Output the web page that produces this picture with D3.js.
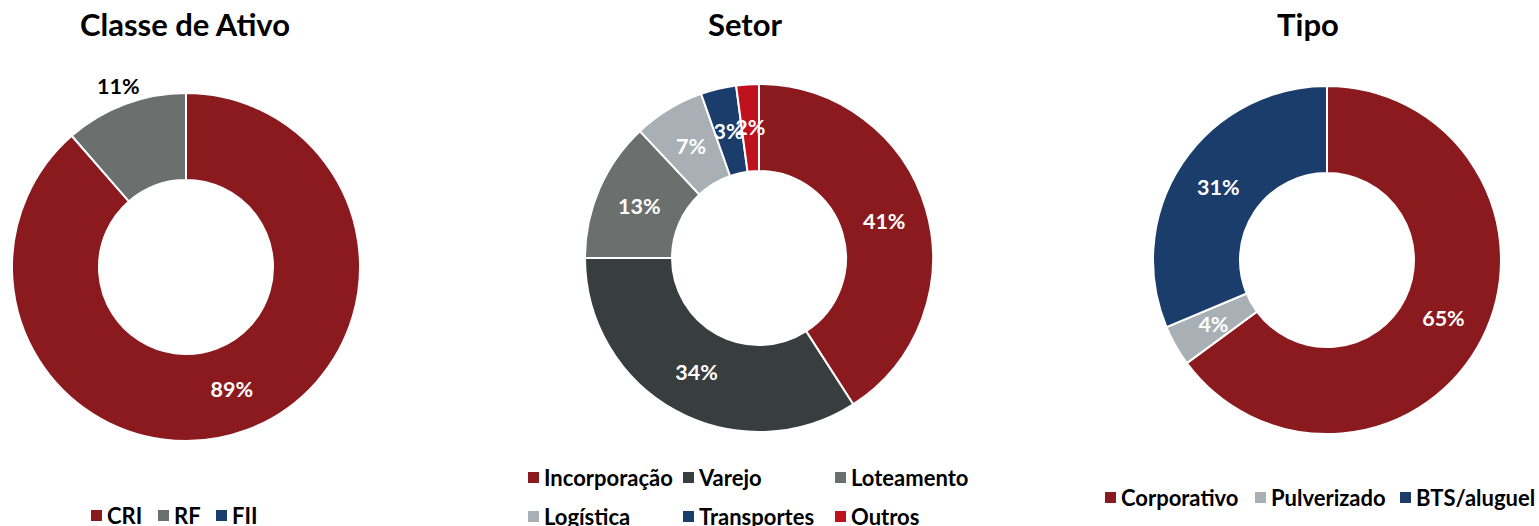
<!DOCTYPE html>
<html>
<head>
<meta charset="utf-8">
<script src="https://cdn.jsdelivr.net/npm/d3@7"></script>
<style>
body { margin: 0; background: #fff; font-family: Lato, "Open Sans", sans-serif; }
svg text { font-weight: bold; }
</style>
</head>
<body>
<script>
// data
var classeLabels = ["CRI", "RF", "FII"];
var classeValues = [88.6, 11.4, 0];
var classeColors = ["#8b1a1f", "#6b706f", "#1b3d6b"];

var setorLabels = ["Incorporação", "Varejo", "Loteamento", "Logística", "Transportes", "Outros"];
var setorValues = [40.9, 34.1, 13.0, 6.6, 3.3, 2.1];
var setorColors = ["#8b1a1f", "#383d3d", "#6b706f", "#a8afb5", "#1b3d6b", "#c0111f"];

var tipoLabels = ["Corporativo", "Pulverizado", "BTS/aluguel"];
var tipoValues = [64.9, 3.8, 31.3];
var tipoColors = ["#8b1a1f", "#a8afb5", "#1b3d6b"];

var width = 1539, height = 526;
var svg = d3.select("body").append("svg")
  .attr("width", width)
  .attr("height", height);

function donut(cfg) {
  var g = svg.append("g");
  var data = cfg.values.map(function(v, i) {
    return {label: cfg.labels[i], value: v, color: cfg.colors[i]};
  });
  var pie = d3.pie().sort(null).value(function(d) { return d.value; });
  var arc = d3.arc().innerRadius(cfg.r * 0.5).outerRadius(cfg.r);
  var arcs = pie(data);

  g.append("text")
    .attr("x", cfg.titleX).attr("y", 36)
    .attr("text-anchor", "middle")
    .style("font-size", "31px")
    .text(cfg.title);

  var pg = g.append("g").attr("transform", "translate(" + cfg.cx + "," + cfg.cy + ")");
  pg.selectAll("path")
    .data(arcs.filter(function(d) { return d.value > 0; }))
    .enter().append("path")
    .attr("d", arc)
    .attr("fill", function(d) { return d.data.color; })
    .attr("stroke", "#fff")
    .attr("stroke-width", 2);

  var outerArc = d3.arc().innerRadius(cfg.r * 1.11).outerRadius(cfg.r * 1.11);
  pg.selectAll("text.lbl")
    .data(arcs.filter(function(d) { return d.value > 0; }))
    .enter().append("text")
    .attr("class", "lbl")
    .attr("transform", function(d) {
      var outside = cfg.outside && cfg.outside.indexOf(d.data.label) >= 0;
      return "translate(" + (outside ? outerArc : arc).centroid(d) + ")";
    })
    .attr("text-anchor", "middle")
    .attr("dy", "0.35em")
    .attr("fill", function(d) {
      return cfg.outside && cfg.outside.indexOf(d.data.label) >= 0 ? "#000" : "#fff";
    })
    .style("font-size", "21.5px")
    .text(function(d) { return Math.round(d.value) + "%"; });

  // legend
  var lg = g.selectAll("g.leg")
    .data(data)
    .enter().append("g")
    .attr("class", "leg")
    .attr("transform", function(d, i) {
      return "translate(" + cfg.legX[i] + "," + cfg.legY[i] + ")";
    });
  lg.append("rect")
    .attr("x", 0).attr("y", -6)
    .attr("width", 11).attr("height", 11)
    .attr("fill", function(d) { return d.color; });
  lg.append("text")
    .attr("x", 16).attr("y", 0)
    .attr("dy", "0.35em")
    .style("font-size", "22px")
    .text(function(d) { return d.label; });
}

donut({title: "Classe de Ativo", titleX: 185, cx: 186, cy: 267, r: 174,
  labels: classeLabels, values: classeValues, colors: classeColors, outside: ["RF"],
  legX: [91, 158, 216], legY: [516, 516, 516]});

donut({title: "Setor", titleX: 745, cx: 759, cy: 258, r: 174,
  labels: setorLabels, values: setorValues, colors: setorColors,
  legX: [528, 683, 835, 528, 683, 835], legY: [478, 478, 478, 517, 517, 517]});

donut({title: "Tipo", titleX: 1308, cx: 1327, cy: 260, r: 174,
  labels: tipoLabels, values: tipoValues, colors: tipoColors,
  legX: [1105, 1255, 1400], legY: [498, 498, 498]});
</script>
</body>
</html>
